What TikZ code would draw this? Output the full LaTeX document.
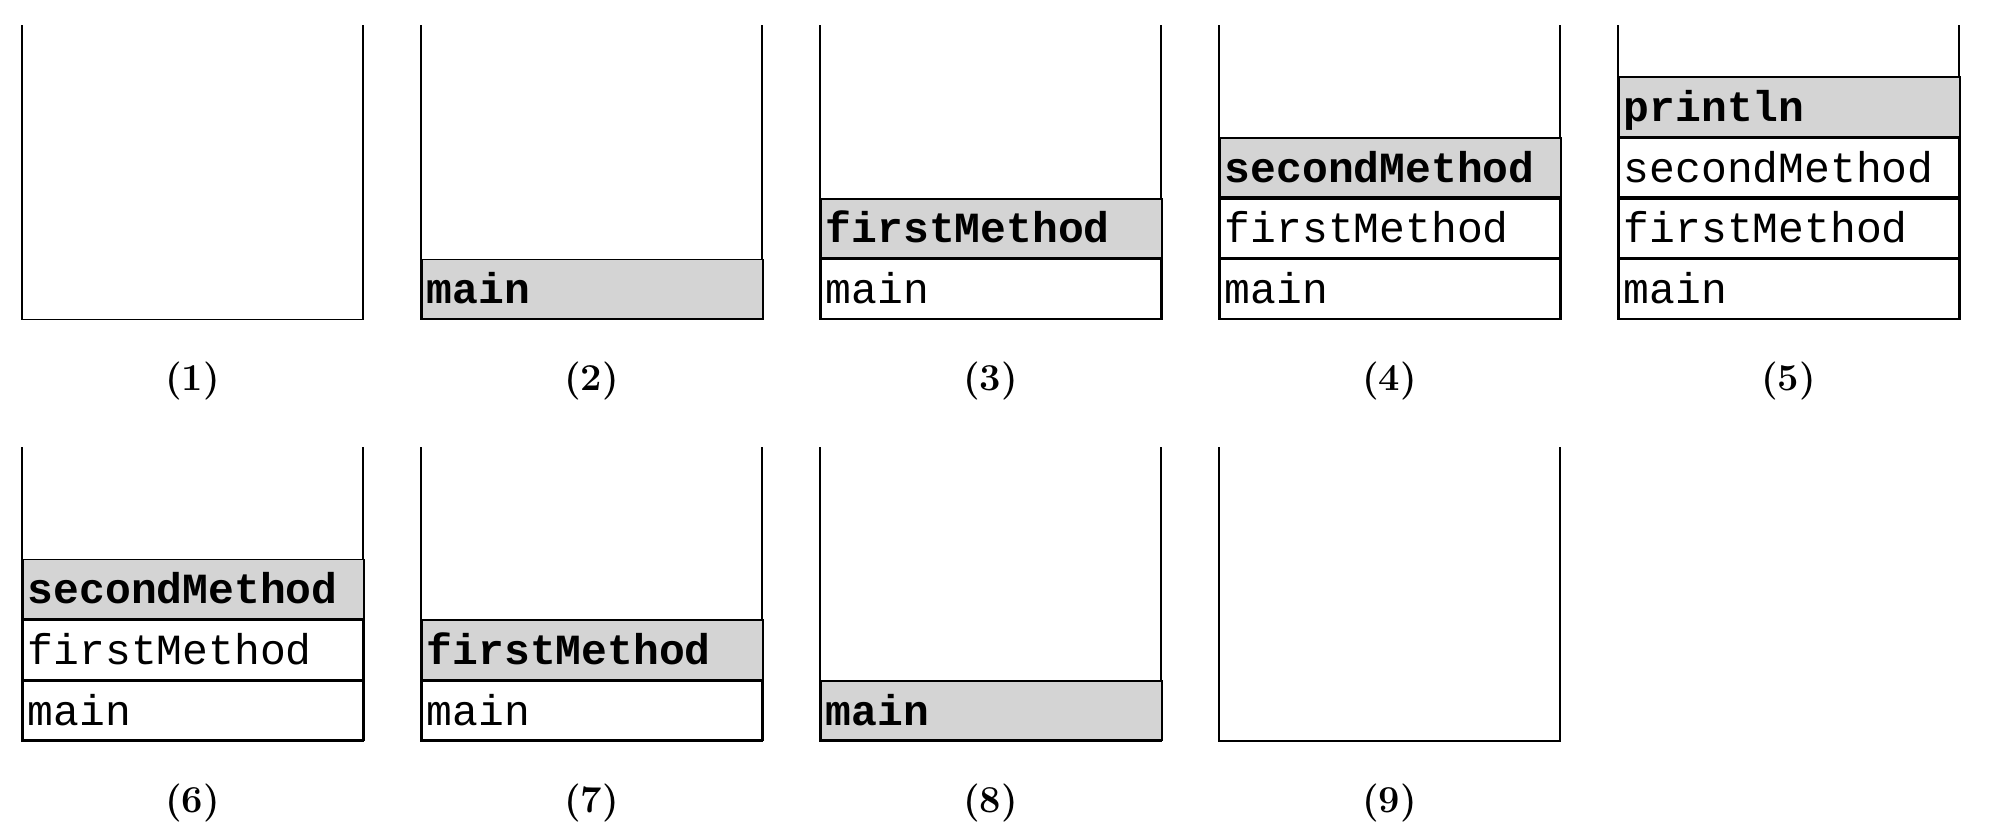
\documentclass[tikz,border=0pt]{standalone}
\usepackage{fontspec}
\setmonofont{Liberation Mono}
\definecolor{stackgray}{RGB}{212,212,212}
\tikzset{
  cell/.style={draw, line width=1.6pt, anchor=south west, minimum width=341pt,
    minimum height=59.2pt, inner xsep=5pt, inner ysep=0pt, text width=331pt,
    align=left, text height=44.2pt, text depth=15pt,
    font=\fontsize{43}{50}\selectfont\ttfamily},
  topcell/.style={cell, fill=stackgray, font=\fontsize{43}{50}\selectfont\ttfamily\bfseries},
  wall/.style={line width=1.6pt, line join=miter},
  lab/.style={font=\fontsize{38}{44}\selectfont\bfseries}
}
\begin{document}
\begin{tikzpicture}[x=1pt,y=-1pt]
\useasboundingbox (0,0) rectangle (2012,822);
% containers: name, left, top, bottom, label
\foreach \n/\L/\T/\B/\lbl in {1/22/25/319.5/(1),2/421/25/319.5/(2),3/820/25/319.5/(3),4/1219/25/319.5/(4),5/1618/25/319.5/(5),
  6/22/447/741/(6),7/421/447/741/(7),8/820/447/741/(8),9/1219/447/741/(9)}{
  \coordinate (tl\n) at (\L,\T);
  \coordinate (bl\n) at (\L,\B);
  \coordinate (br\n) at (\L+341,\B);
  \coordinate (tr\n) at (\L+341,\T);
  \draw[wall] (tl\n) -- (bl\n) -- (br\n) -- (tr\n);
  \node[lab] (lab\n) at (\L+170.5,\B+62) {\lbl};
}
% stack 2
\node[topcell] (s2a) at (bl2) {main};
% stack 3
\node[cell] (s3a) at (bl3) {main};
\node[topcell] (s3b) at (s3a.north west) {firstMethod};
% stack 4
\node[cell] (s4a) at (bl4) {main};
\node[cell] (s4b) at (s4a.north west) {firstMethod};
\node[topcell] (s4c) at (s4b.north west) {secondMethod};
% stack 5
\node[cell] (s5a) at (bl5) {main};
\node[cell] (s5b) at (s5a.north west) {firstMethod};
\node[cell] (s5c) at (s5b.north west) {secondMethod};
\node[topcell] (s5d) at (s5c.north west) {println};
% stack 6
\node[cell] (s6a) at (bl6) {main};
\node[cell] (s6b) at (s6a.north west) {firstMethod};
\node[topcell] (s6c) at (s6b.north west) {secondMethod};
% stack 7
\node[cell] (s7a) at (bl7) {main};
\node[topcell] (s7b) at (s7a.north west) {firstMethod};
% stack 8
\node[topcell] (s8a) at (bl8) {main};
\end{tikzpicture}
\end{document}
